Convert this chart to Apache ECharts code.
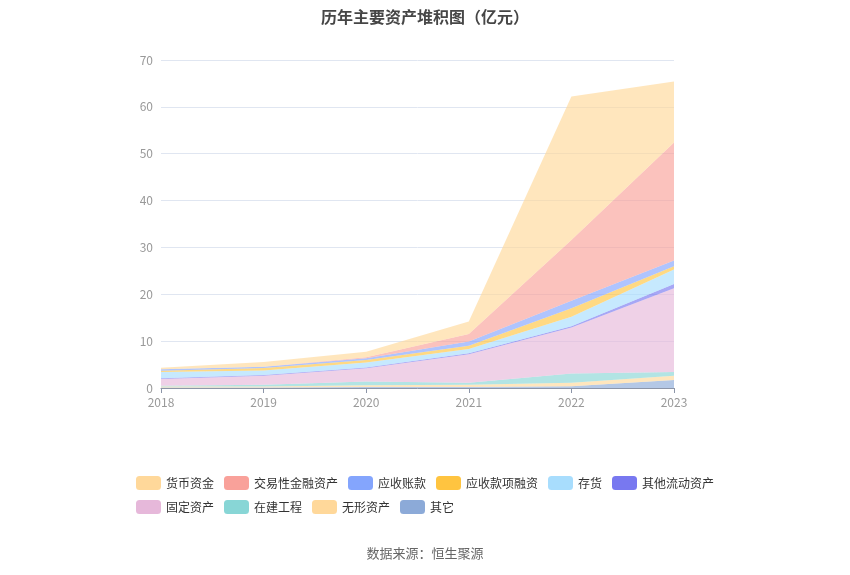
<!DOCTYPE html>
<html>
<head>
<meta charset="utf-8">
<script src="https://cdn.jsdelivr.net/npm/echarts@6/dist/echarts.min.js"></script>
<style>html,body{margin:0;padding:0;background:#fff;}#main{width:850px;height:575px;}</style>
</head>
<body>
<div id="main"></div>
<script>
var years = ['2018', '2019', '2020', '2021', '2022', '2023'];
var yTicks = [0, 10, 20, 30, 40, 50, 60, 70];
// series, bottom of stack first
var qita       = [0.1, 0.1, 0.2, 0.2, 0.4, 1.7];   // 其它
var wuxing     = [0.2, 0.2, 0.4, 0.5, 0.7, 0.9];   // 无形资产
var zaijian    = [0.2, 0.4, 0.8, 0.4, 2.0, 0.8];   // 在建工程
var guding     = [1.4, 1.9, 2.8, 6.1, 9.8, 17.9];  // 固定资产
var qitaliudong= [0.2, 0.15, 0.15, 0.2, 0.3, 0.9]; // 其他流动资产
var cunhuo     = [1.3, 1.0, 1.1, 0.9, 2.0, 3.1];   // 存货
var yingshourz = [0.3, 0.5, 0.55, 0.7, 1.8, 0.7];  // 应收款项融资
var yingshouzk = [0.3, 0.3, 0.35, 0.9, 1.6, 1.2];  // 应收账款
var jiaoyixing = [0.0, 0.0, 0.2, 1.6, 13.0, 25.2]; // 交易性金融资产
var huobi      = [0.3, 1.0, 1.2, 2.7, 30.6, 13.0]; // 货币资金

var seriesDefs = [
  ['其它', qita, '#8CAAD8'],
  ['无形资产', wuxing, '#FFD89A'],
  ['在建工程', zaijian, '#88D6D6'],
  ['固定资产', guding, '#E6B8DA'],
  ['其他流动资产', qitaliudong, '#7878F0'],
  ['存货', cunhuo, '#A8DDFD'],
  ['应收款项融资', yingshourz, '#FFC440'],
  ['应收账款', yingshouzk, '#84A5FD'],
  ['交易性金融资产', jiaoyixing, '#F9A19A'],
  ['货币资金', huobi, '#FFD89A']
];
var legendOrder = ['货币资金', '交易性金融资产', '应收账款', '应收款项融资', '存货', '其他流动资产', '固定资产', '在建工程', '无形资产', '其它'];

var chart = echarts.init(document.getElementById('main'));
var font = '"Noto Sans CJK SC", "Noto Sans", sans-serif';
chart.setOption({
  animation: false,
  textStyle: { fontFamily: font },
  title: {
    text: '历年主要资产堆积图（亿元）',
    left: 'center', top: 4,
    textStyle: { fontSize: 16, fontWeight: 'bold', color: '#464646', fontFamily: font }
  },
  legend: {
    data: legendOrder,
    icon: 'roundRect',
    left: 'center', top: 471, width: 600,
    itemWidth: 25, itemHeight: 14, itemGap: 10,
    textStyle: { fontSize: 12, color: '#333', fontFamily: font }
  },
  grid: { left: 161, right: 176, top: 60, bottom: 187 },
  xAxis: {
    type: 'category', data: years, boundaryGap: false,
    axisLine: { lineStyle: { color: '#8C95A8' } },
    axisTick: { lineStyle: { color: '#8C95A8' } },
    axisLabel: { color: '#999', fontSize: 12 }
  },
  yAxis: {
    type: 'value', min: yTicks[0], max: yTicks[yTicks.length - 1], interval: 10,
    axisLine: { show: false }, axisTick: { show: false },
    axisLabel: { color: '#999', fontSize: 12 },
    splitLine: { lineStyle: { color: '#E0E6F1' } }
  },
  graphic: [{
    type: 'text', left: 'center', top: 547,
    style: { text: '数据来源：恒生聚源', fill: '#666', fontSize: 13, fontFamily: font }
  }],
  series: seriesDefs.map(function (d) {
    return {
      name: d[0], type: 'line', stack: 'total', data: d[1],
      showSymbol: false, symbol: 'none',
      itemStyle: { color: d[2] },
      lineStyle: { width: 0 },
      areaStyle: { color: d[2], opacity: 0.65 }
    };
  })
});
</script>
</body>
</html>
